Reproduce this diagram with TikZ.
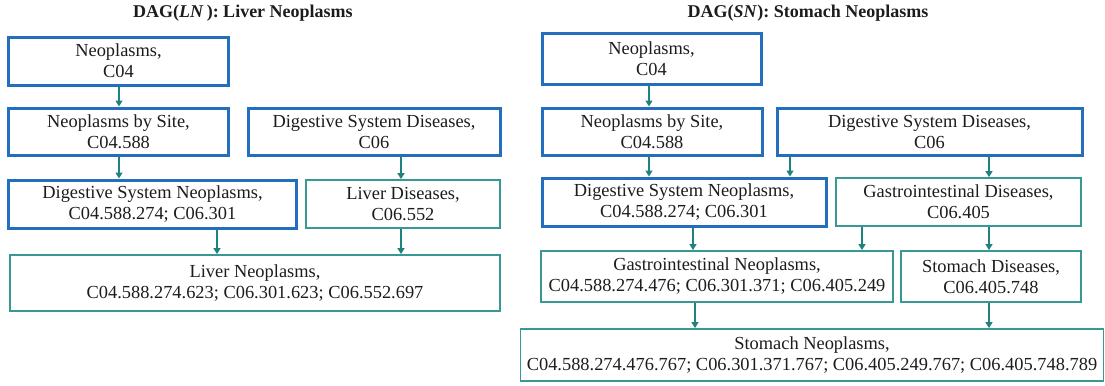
\documentclass[tikz,border=0pt]{standalone}
\usepackage{fontspec}
\setmainfont{Liberation Serif}
\usetikzlibrary{arrows.meta}
\definecolor{bxblue}{RGB}{36,110,190}
\definecolor{bxteal}{RGB}{55,152,148}
\definecolor{arteal}{RGB}{32,130,126}
\definecolor{txt}{RGB}{28,28,28}
\tikzset{
  box/.style={draw, inner sep=0pt, align=center, text=txt,
    font=\fontsize{18.4bp}{21bp}\selectfont},
  bluebox/.style={box, draw=bxblue, line width=3bp},
  tealbox/.style={box, draw=bxteal, line width=1.8bp},
  ttl/.style={inner sep=0pt, text=txt, font=\fontsize{18bp}{22bp}\selectfont\bfseries},
  arr/.style={draw=arteal, line width=1.3bp, -{Triangle[width=7bp,length=6bp]}}
}
\begin{document}
\begin{tikzpicture}[x=1bp,y=-1bp]
\useasboundingbox (0,0) rectangle (1105,385);
% titles
\node[ttl] (T1) at (243,13) {DAG(\textit{LN}\,): Liver Neoplasms};
\node[ttl] (T2) at (808,13) {DAG(\textit{SN}): Stomach Neoplasms};
% left DAG
\node[bluebox, minimum width=219bp, minimum height=48bp] (L1) at (118.5,61) {Neoplasms,\\C04};
\node[bluebox, minimum width=219bp, minimum height=47bp] (L2) at (118.5,131.5) {Neoplasms by Site,\\C04.588};
\node[bluebox, minimum width=252bp, minimum height=47bp] (L3) at (374,131.5) {Digestive System Diseases,\\C06};
\node[bluebox, minimum width=287bp, minimum height=48bp] (L4) at (152.5,204) {Digestive System Neoplasms,\\C04.588.274; C06.301};
\node[tealbox, minimum width=194bp, minimum height=48bp] (L5) at (403,204) {Liver Diseases,\\C06.552};
\node[tealbox, minimum width=490bp, minimum height=56bp] (L6) at (255,283) {Liver Neoplasms,\\C04.588.274.623; C06.301.623; C06.552.697};
% right DAG
\node[bluebox, minimum width=219bp, minimum height=51bp] (R1) at (651.5,58.5) {Neoplasms,\\C04};
\node[bluebox, minimum width=220bp, minimum height=47bp] (R2) at (652,131.5) {Neoplasms by Site,\\C04.588};
\node[bluebox, minimum width=305bp, minimum height=47bp] (R3) at (929.5,131.5) {Digestive System Diseases,\\C06};
\node[bluebox, minimum width=284bp, minimum height=48bp] (R4) at (684,202) {Digestive System Neoplasms,\\C04.588.274; C06.301};
\node[tealbox, minimum width=245bp, minimum height=48bp] (R5) at (958.5,202) {Gastrointestinal Diseases,\\C06.405};
\node[tealbox, minimum width=352bp, minimum height=51bp] (R6) at (717,276.5) {Gastrointestinal Neoplasms,\\C04.588.274.476; C06.301.371; C06.405.249};
\node[tealbox, minimum width=180bp, minimum height=51bp] (R7) at (991,276.5) {Stomach Diseases,\\C06.405.748};
\node[tealbox, minimum width=583bp, minimum height=52bp] (R8) at (812,355) {Stomach Neoplasms,\\C04.588.274.476.767; C06.301.371.767; C06.405.249.767; C06.405.748.789};
% arrow columns
\coordinate (xa) at (119,0);
\coordinate (xb) at (401,0);
\coordinate (xc) at (217,0);
\coordinate (xd) at (649,0);
\coordinate (xe) at (790,0);
\coordinate (xf) at (989,0);
\coordinate (xg) at (693,0);
\coordinate (xh) at (862,0);
\coordinate (xi) at (695,0);
% left arrows
\draw[arr] (L1.south -| xa) -- (L2.north -| xa);
\draw[arr] (L2.south -| xa) -- (L4.north -| xa);
\draw[arr] (L3.south -| xb) -- (L5.north -| xb);
\draw[arr] (L4.south -| xc) -- (L6.north -| xc);
\draw[arr] (L5.south -| xb) -- (L6.north -| xb);
% right arrows
\draw[arr] (R1.south -| xd) -- (R2.north -| xd);
\draw[arr] (R2.south -| xd) -- (R4.north -| xd);
\draw[arr] (R3.south -| xe) -- (R4.north -| xe);
\draw[arr] (R3.south -| xf) -- (R5.north -| xf);
\draw[arr] (R4.south -| xg) -- (R6.north -| xg);
\draw[arr] (R5.south -| xh) -- (R6.north -| xh);
\draw[arr] (R5.south -| xf) -- (R7.north -| xf);
\draw[arr] (R6.south -| xi) -- (R8.north -| xi);
\draw[arr] (R7.south -| xf) -- (R8.north -| xf);
\end{tikzpicture}
\end{document}
